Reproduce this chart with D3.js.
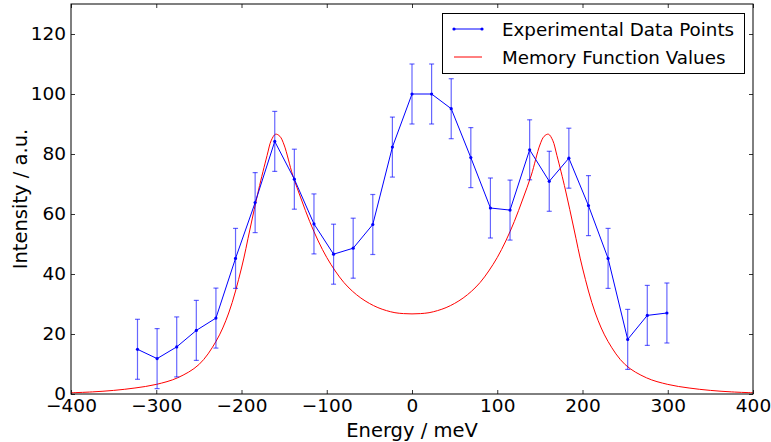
<!DOCTYPE html>
<html>
<head>
<meta charset="utf-8">
<script src="https://cdn.jsdelivr.net/npm/d3@7"></script>
<style>
  html, body { margin: 0; padding: 0; background: #fff; }
  svg text { font-family: "DejaVu Sans", sans-serif; fill: #000; }
</style>
</head>
<body>
<svg id="chart" width="771" height="442"></svg>
<script>
// Measured spectrum: energy transfer (meV), intensity (a.u.) and ±error
const expEnergy = [-322, -299, -276, -253, -230, -207, -184, -161, -138, -115, -92, -69, -46, -23,
                   0, 23, 46, 69, 92, 115, 138, 161, 184, 207, 230, 253, 276, 299];
const expIntensity = [14.9, 11.8, 15.7, 21.2, 25.3, 45.2, 63.8, 84.2, 71.6, 56.7, 46.6, 48.6, 56.5, 82.3,
                      100.0, 100.0, 95.1, 78.8, 62.0, 61.3, 81.4, 70.9, 78.6, 62.8, 45.2, 18.2, 26.2, 27.0];
const expError = [10, 10, 10, 10, 10, 10, 10, 10, 10, 10, 10, 10, 10, 10,
                  10, 10, 10, 10, 10, 10, 10, 10, 10, 10, 10, 10, 10, 10];

// Memory-function model sampled on an energy grid
const modelEnergy = [-400, -375, -350, -325, -300, -275, -250, -230, -215, -200, -190, -180, -170, -165,
                     -160, -155, -150, -140, -130, -120, -110, -100, -90, -80, -70, -60, -50, -40, -30,
                     -20, -10, 0, 10, 20, 30, 40, 50, 60, 70, 80, 90, 100, 110, 120, 130, 140, 150, 155,
                     160, 165, 170, 180, 190, 200, 215, 230, 250, 275, 300, 325, 350, 375, 400];
const modelValue = [0.4, 0.7, 1.2, 2.0, 3.2, 5.4, 9.8, 17.5, 27.0, 42.0, 55.0, 68.0, 79.5, 84.6,
                    86.6, 85.9, 83.0, 73.0, 65.0, 57.5, 51.0, 45.5, 41.0, 37.2, 34.3, 32.0, 30.2, 28.8, 27.8,
                    27.1, 26.8, 26.7, 26.8, 27.1, 27.8, 28.8, 30.2, 32.0, 34.3, 37.2, 41.0, 45.5, 51.0, 57.5,
                    65.0, 73.0, 83.0, 85.9, 86.6, 84.6, 79.5, 68.0, 55.0, 42.0, 27.0, 17.5, 9.8, 5.4, 3.2,
                    2.0, 1.2, 0.7, 0.4];

const xTicks = [-400, -300, -200, -100, 0, 100, 200, 300, 400];
const yTicks = [0, 20, 40, 60, 80, 100, 120];
const seriesNames = ["Experimental Data Points", "Memory Function Values"];
const xTitle = "Energy / meV";
const yTitle = "Intensity / a.u.";

const svg = d3.select("#chart");
const plot = { left: 71, right: 753, top: 4, bottom: 394 };

const x = d3.scaleLinear().domain([-400, 400]).range([plot.left, plot.right]);
const y = d3.scaleLinear().domain([0, 130]).range([plot.bottom, plot.top]);

const fmt = d3.format("d");
const tickFont = 18.5;
const titleFont = 19.5;
const legendFont = 18.3;

// Axes with inward ticks on all four sides
const gx = svg.append("g").attr("transform", `translate(0,${plot.bottom})`)
  .call(d3.axisBottom(x).tickValues(xTicks).tickFormat(fmt).tickSizeInner(-4).tickSizeOuter(0).tickPadding(5));
const gxTop = svg.append("g").attr("transform", `translate(0,${plot.top})`)
  .call(d3.axisTop(x).tickValues(xTicks).tickFormat("").tickSizeInner(-4).tickSizeOuter(0));
const gy = svg.append("g").attr("transform", `translate(${plot.left},0)`)
  .call(d3.axisLeft(y).tickValues(yTicks).tickFormat(fmt).tickSizeInner(-4).tickSizeOuter(0).tickPadding(5));
const gyRight = svg.append("g").attr("transform", `translate(${plot.right},0)`)
  .call(d3.axisRight(y).tickValues(yTicks).tickFormat("").tickSizeInner(-4).tickSizeOuter(0));

[gx, gxTop, gy, gyRight].forEach(g => {
  g.select(".domain").remove();
  g.selectAll(".tick line").attr("stroke", "#000").attr("stroke-width", 0.8);
  g.selectAll("text").attr("font-size", tickFont).attr("font-family", "DejaVu Sans, sans-serif").attr("fill", "#000");
});

// Curves are clipped to the axes box
svg.append("clipPath").attr("id", "plotClip").append("rect")
  .attr("x", plot.left).attr("y", plot.top)
  .attr("width", plot.right - plot.left).attr("height", plot.bottom - plot.top);

const layer = svg.append("g").attr("clip-path", "url(#plotClip)");

// Model curve
const modelPts = modelEnergy.map((e, i) => [e, modelValue[i]]);
layer.append("path")
  .datum(modelPts)
  .attr("fill", "none")
  .attr("stroke", "#ff0000")
  .attr("stroke-width", 1)
  .attr("d", d3.line().x(d => x(d[0])).y(d => y(d[1])).curve(d3.curveCatmullRom.alpha(0.5)));

// Experimental points
const expPts = expEnergy.map((e, i) => ({ e, v: expIntensity[i], err: expError[i] }));

const bars = layer.append("g").attr("stroke", "#0000ff").attr("stroke-opacity", 0.6).attr("stroke-width", 1.2);
bars.selectAll("line.bar").data(expPts).join("line")
  .attr("class", "bar")
  .attr("x1", d => x(d.e)).attr("x2", d => x(d.e))
  .attr("y1", d => y(d.v - d.err)).attr("y2", d => y(d.v + d.err));
bars.selectAll("line.capTop").data(expPts).join("line")
  .attr("class", "capTop")
  .attr("x1", d => x(d.e) - 2.5).attr("x2", d => x(d.e) + 2.5)
  .attr("y1", d => y(d.v + d.err)).attr("y2", d => y(d.v + d.err));
bars.selectAll("line.capBot").data(expPts).join("line")
  .attr("class", "capBot")
  .attr("x1", d => x(d.e) - 2.5).attr("x2", d => x(d.e) + 2.5)
  .attr("y1", d => y(d.v - d.err)).attr("y2", d => y(d.v - d.err));

layer.append("path")
  .datum(expPts)
  .attr("fill", "none")
  .attr("stroke", "#0000ff")
  .attr("stroke-width", 1)
  .attr("d", d3.line().x(d => x(d.e)).y(d => y(d.v)));

layer.selectAll("circle.pt").data(expPts).join("circle")
  .attr("class", "pt")
  .attr("cx", d => x(d.e)).attr("cy", d => y(d.v))
  .attr("r", 1.6).attr("fill", "#0000ff");

// Frame
svg.append("rect")
  .attr("x", plot.left).attr("y", plot.top)
  .attr("width", plot.right - plot.left).attr("height", plot.bottom - plot.top)
  .attr("fill", "none").attr("stroke", "#000").attr("stroke-width", 1);

// Axis titles
svg.append("text")
  .attr("x", (plot.left + plot.right) / 2).attr("y", 437)
  .attr("text-anchor", "middle").attr("font-size", titleFont)
  .text(xTitle);
svg.append("text")
  .attr("transform", `translate(27,${(plot.top + plot.bottom) / 2}) rotate(-90)`)
  .attr("text-anchor", "middle").attr("font-size", titleFont)
  .text(yTitle);

// Legend
const legend = svg.append("g");
legend.append("rect")
  .attr("x", 442.5).attr("y", 13.5).attr("width", 302).attr("height", 60)
  .attr("fill", "#fff").attr("stroke", "#000").attr("stroke-width", 1);
const legendColors = ["#0000ff", "#ff0000"];
seriesNames.forEach((name, i) => {
  const ly = 29 + i * 28;
  legend.append("line")
    .attr("x1", 454).attr("x2", 482).attr("y1", ly).attr("y2", ly)
    .attr("stroke", legendColors[i]).attr("stroke-width", 1);
  if (i === 0) {
    [454, 482].forEach(px => legend.append("circle").attr("cx", px).attr("cy", ly).attr("r", 1.6).attr("fill", legendColors[i]));
  }
  legend.append("text")
    .attr("x", 502).attr("y", ly).attr("dy", "0.36em")
    .attr("font-size", legendFont)
    .text(name);
});
</script>
</body>
</html>
